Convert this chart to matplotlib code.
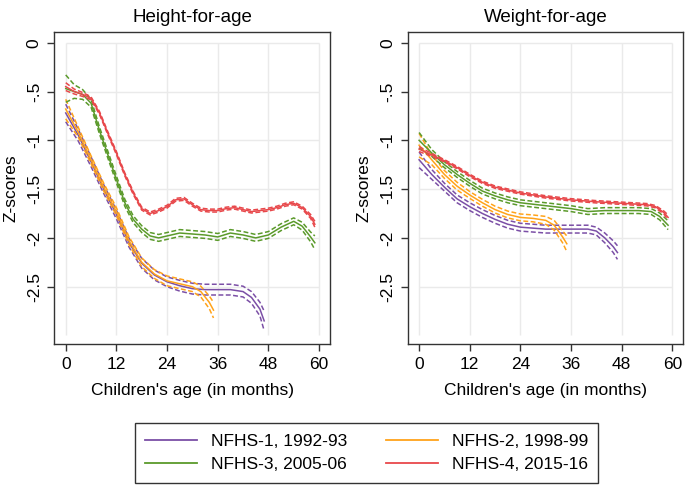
import matplotlib.pyplot as plt
from matplotlib.lines import Line2D

plt.rcParams['font.family'] = ['Liberation Sans', 'DejaVu Sans']

# colours of the four survey rounds
colors = ["#7B4FA6", "#FFA31A", "#5B9A2B", "#E8484B"]
labels = ["NFHS-1, 1992-93", "NFHS-2, 1998-99", "NFHS-3, 2005-06", "NFHS-4, 2015-16"]

# ---- Height-for-age (mean z-score and CI half width by month) ----
haz_m1 = [0, 3, 6, 9, 12, 15, 18, 21, 24, 27, 30, 33, 36, 39, 42, 44, 46, 47]
haz1 = [-0.72, -0.95, -1.22, -1.5, -1.76, -2.05, -2.26, -2.38, -2.45, -2.49, -2.52, -2.53, -2.53, -2.53, -2.55, -2.61, -2.73, -2.85]
haz1_ci = [0.09, 0.06, 0.05, 0.045, 0.045, 0.045, 0.05, 0.05, 0.05, 0.055, 0.055, 0.055, 0.055, 0.055, 0.055, 0.06, 0.07, 0.1]

haz_m2 = [0, 3, 6, 9, 12, 15, 18, 21, 24, 27, 30, 32, 34, 35]
haz2 = [-0.68, -0.92, -1.2, -1.48, -1.73, -2.03, -2.25, -2.37, -2.44, -2.47, -2.5, -2.55, -2.66, -2.74]
haz2_ci = [0.1, 0.05, 0.04, 0.04, 0.04, 0.04, 0.045, 0.045, 0.05, 0.05, 0.05, 0.055, 0.065, 0.08]

haz_m3 = [0, 2, 4, 6, 8, 10, 12, 14, 16, 18, 20, 22, 24, 27, 30, 33, 36, 39, 42, 45, 48, 51, 54, 56, 58, 59]
haz3 = [-0.47, -0.5, -0.53, -0.62, -0.9, -1.15, -1.4, -1.64, -1.81, -1.91, -1.98, -2.0, -1.98, -1.95, -1.96, -1.97, -1.99,
        -1.95, -1.97, -2.0, -1.97, -1.89, -1.83, -1.88, -1.99, -2.05]
haz3_ci = [0.14, 0.07, 0.05, 0.04, 0.035, 0.035, 0.035, 0.035, 0.035, 0.035, 0.035, 0.035, 0.035, 0.035, 0.035, 0.035,
           0.035, 0.035, 0.035, 0.035, 0.035, 0.035, 0.035, 0.04, 0.05, 0.07]

haz_m4 = [0, 2, 4, 6, 8, 10, 12, 14, 16, 18, 20, 22, 24, 26, 28, 30, 32, 34, 36, 38, 40, 42, 44, 46, 48, 50, 52, 54, 56, 58, 59]
haz4 = [-0.45, -0.5, -0.53, -0.57, -0.72, -0.93, -1.13, -1.35, -1.54, -1.7, -1.75, -1.72, -1.68, -1.61, -1.6, -1.66,
        -1.71, -1.72, -1.72, -1.7, -1.69, -1.71, -1.73, -1.72, -1.71, -1.69, -1.66, -1.645, -1.69, -1.78, -1.86]
haz4_ci = [0.04, 0.025, 0.02, 0.015, 0.015, 0.015, 0.015, 0.015, 0.015, 0.015, 0.015, 0.015, 0.015, 0.015, 0.015, 0.015,
           0.015, 0.015, 0.015, 0.015, 0.015, 0.015, 0.015, 0.015, 0.015, 0.015, 0.015, 0.015, 0.015, 0.02, 0.03]

# ---- Weight-for-age ----
waz_m1 = [0, 3, 6, 9, 12, 15, 18, 21, 24, 30, 36, 40, 42, 44, 46, 47]
waz1 = [-1.2, -1.35, -1.48, -1.6, -1.68, -1.75, -1.81, -1.86, -1.89, -1.91, -1.91, -1.91, -1.93, -2.0, -2.09, -2.15]
waz1_ci = [0.08, 0.05, 0.04, 0.04, 0.04, 0.04, 0.04, 0.04, 0.04, 0.04, 0.04, 0.04, 0.04, 0.05, 0.06, 0.07]

waz_m2 = [0, 3, 6, 9, 12, 15, 18, 21, 24, 27, 30, 32, 34, 35]
waz2 = [-1.05, -1.2, -1.35, -1.47, -1.56, -1.64, -1.71, -1.76, -1.79, -1.8, -1.82, -1.87, -1.99, -2.06]
waz2_ci = [0.12, 0.05, 0.04, 0.04, 0.035, 0.035, 0.035, 0.035, 0.035, 0.035, 0.04, 0.05, 0.06, 0.08]

waz_m3 = [0, 3, 6, 9, 12, 15, 18, 21, 24, 30, 36, 40, 44, 48, 52, 55, 57, 59]
waz3 = [-1.0, -1.13, -1.25, -1.35, -1.44, -1.52, -1.57, -1.61, -1.64, -1.67, -1.7, -1.73, -1.72, -1.72, -1.72, -1.73, -1.78, -1.87]
waz3_ci = [0.08, 0.035, 0.03, 0.03, 0.03, 0.03, 0.03, 0.03, 0.03, 0.03, 0.03, 0.03, 0.03, 0.03, 0.03, 0.03, 0.035, 0.045]

waz_m4 = [0, 3, 6, 9, 12, 15, 18, 21, 24, 30, 36, 42, 48, 54, 56, 58, 59]
waz4 = [-1.09, -1.15, -1.21, -1.28, -1.36, -1.43, -1.48, -1.51, -1.54, -1.58, -1.61, -1.63, -1.645, -1.66, -1.68, -1.74, -1.79]
waz4_ci = [0.025, 0.015, 0.012, 0.012, 0.012, 0.012, 0.012, 0.012, 0.012, 0.012, 0.012, 0.012, 0.012, 0.012, 0.012, 0.015, 0.025]

x_ticks = [0, 12, 24, 36, 48, 60]
y_ticks = [0, -0.5, -1, -1.5, -2, -2.5]
y_ticklabels = ["0", "-.5", "-1", "-1.5", "-2", "-2.5"]

haz = [(haz_m1, haz1, haz1_ci), (haz_m2, haz2, haz2_ci), (haz_m3, haz3, haz3_ci), (haz_m4, haz4, haz4_ci)]
waz = [(waz_m1, waz1, waz1_ci), (waz_m2, waz2, waz2_ci), (waz_m3, waz3, waz3_ci), (waz_m4, waz4, waz4_ci)]

fig = plt.figure(figsize=(6.85, 4.86), dpi=100)
ax1 = fig.add_axes([0.0793, 0.2916, 0.4025, 0.6432])
ax2 = fig.add_axes([0.5952, 0.2916, 0.4023, 0.6432])

dash = (0, (3.2, 1.6))
for ax, series, title in [(ax1, haz, "Height-for-age"), (ax2, waz, "Weight-for-age")]:
    # Stata-like grid limited to the data range
    ax.hlines(y_ticks, 0, 60, color="#EAEAEA", lw=1, zorder=0)
    ax.vlines(x_ticks, -3, 0, color="#EAEAEA", lw=1, zorder=0)
    for (m, v, ci), c in zip(series, colors):
        lo = [a - b for a, b in zip(v, ci)]
        hi = [a + b for a, b in zip(v, ci)]
        ax.plot(m, lo, color=c, lw=1.1, linestyle=dash)
        ax.plot(m, hi, color=c, lw=1.1, linestyle=dash)
        ax.plot(m, v, color=c, lw=1.1)
    ax.set_xlim(-2.7, 62.6)
    ax.set_ylim(-3.09, 0.113)
    ax.set_xticks(x_ticks)
    ax.set_yticks(y_ticks)
    ax.set_yticklabels(y_ticklabels, rotation=90, va="center")
    ax.tick_params(labelsize=12.5, length=5, width=1, color="#333333", pad=4)
    ax.set_xlabel("Children's age (in months)", fontsize=12.5, labelpad=8)
    ax.set_ylabel("Z-scores", fontsize=12.5, labelpad=6)
    ax.set_title(title, fontsize=13.5, pad=7)
    for s in ax.spines.values():
        s.set_color("#333333")
        s.set_linewidth(1)

# legend fills column-wise, so order handles to get rows 1-2 / 3-4
order = [0, 2, 1, 3]
handles = [Line2D([], [], color=colors[i], lw=1.3) for i in order]
fig.legend(handles, [labels[i] for i in order], ncol=2, loc="center", bbox_to_anchor=(0.535, 0.068),
           fontsize=12.5, frameon=True, fancybox=False, edgecolor="black",
           handlelength=3, columnspacing=2.2, borderpad=0.6)

fig.savefig("out.png", dpi=100)
